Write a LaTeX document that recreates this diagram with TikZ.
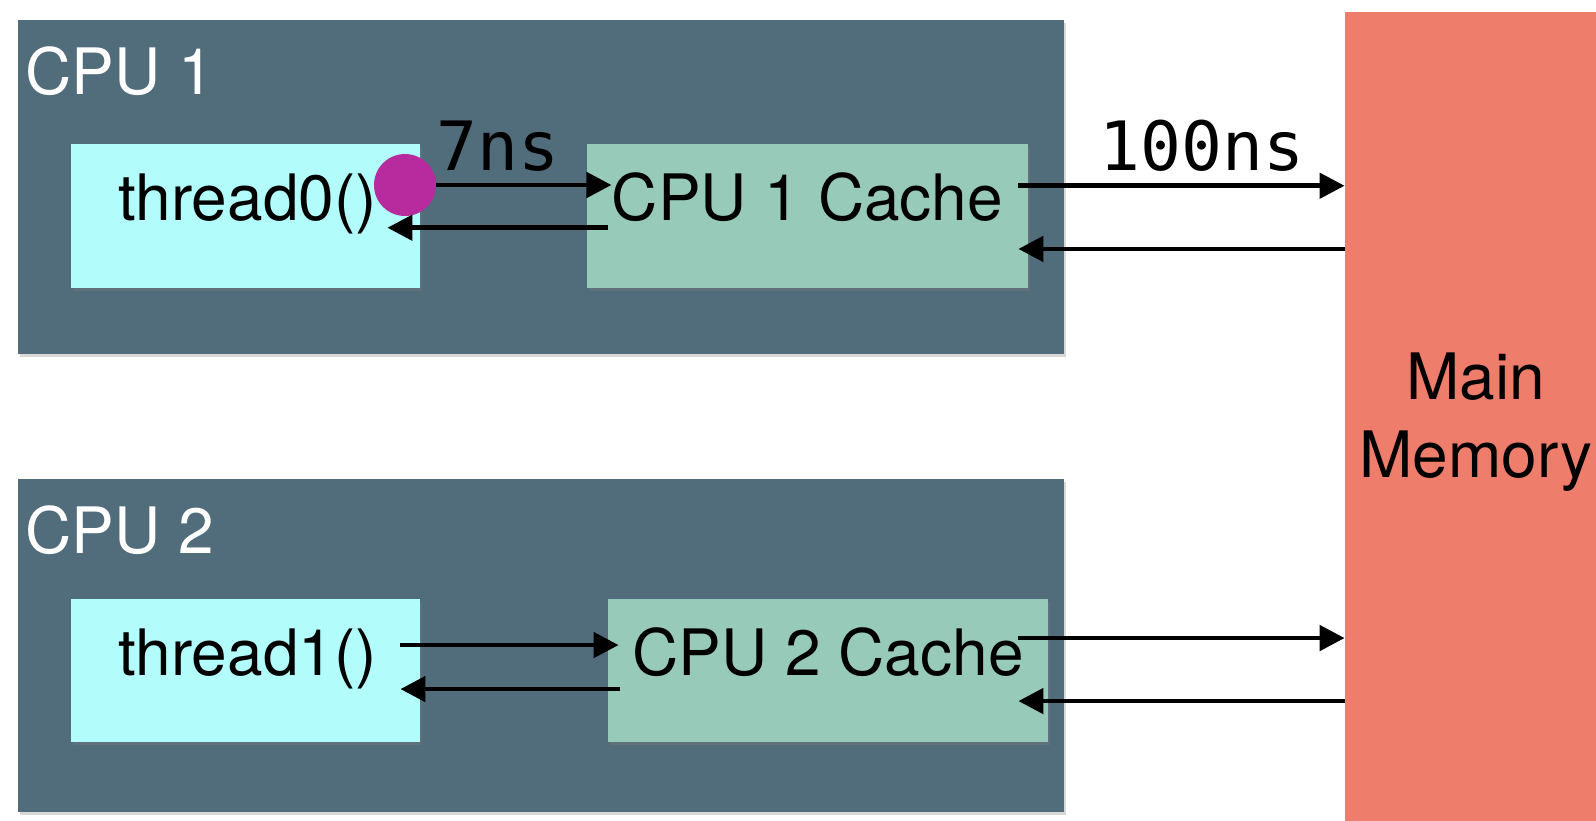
\documentclass[tikz,border=0pt]{standalone}
\usepackage{fontspec}
\setmainfont{TeX Gyre Heros}
\newfontfamily\codefont{DejaVu Sans Mono}
\usetikzlibrary{calc}
\usetikzlibrary{positioning}
\usetikzlibrary{arrows.meta}
\usetikzlibrary{shadows}
\definecolor{custom-slate}{RGB}{81, 108, 122}
\definecolor{custom-cyan}{RGB}{179, 252, 252}
\definecolor{custom-green}{RGB}{151, 202, 184}
\definecolor{custom-salmon}{RGB}{239, 125, 107}
\definecolor{custom-magenta}{RGB}{183, 43, 158}

\begin{document}
\begin{tikzpicture}[x=0.5pt, y=-0.5pt,
        box/.style={rectangle, inner sep=0pt, draw=none, drop shadow={opacity=0.3, shadow xshift=1pt, shadow yshift=-1.5pt}},
        txt/.style={inner sep=0pt, font=\fontsize{32}{36}\selectfont},
        lat/.style={inner sep=0pt, font=\codefont\fontsize{34}{40}\selectfont},
        flow/.style={line width=2.4pt, -{Triangle[length=12.5pt, width=12.5pt]}}]
                \clip (0, 0) rectangle (1596, 820);
                \fill[white] (0, 0) rectangle (1596, 820);
                \node[box, fill=custom-slate, minimum width=523pt, minimum height=167pt] (cpu1) at (541, 187) {};
                \node[box, fill=custom-slate, minimum width=523pt, minimum height=166.5pt] (cpu2) at (541, 645.5) {};
                \node[box, fill=custom-cyan, minimum width=174.5pt, minimum height=72.25pt] (th0) at (245.5, 215.75) {};
                \node[box, fill=custom-green, minimum width=220.5pt, minimum height=72.25pt] (ca1) at (807.5, 215.75) {};
                \node[box, fill=custom-cyan, minimum width=174.5pt, minimum height=71.75pt] (th1) at (245.5, 670.25) {};
                \node[box, fill=custom-green, minimum width=220pt, minimum height=71.75pt] (ca2) at (828, 670.25) {};
                \node[box, fill=custom-salmon, minimum width=131pt, minimum height=410pt, align=center, font=\fontsize{32}{36}\selectfont] (mem) at (1476, 422) {Main\\[3pt]Memory};
                \node[circle, fill=custom-magenta, minimum size=31pt, inner sep=0pt] (dot) at (405, 185) {};
                \node[txt, text=white, anchor=base west] (cpu1txt) at (25, 94) {CPU 1};
                \node[txt, text=white, anchor=base west] (cpu2txt) at (25, 553) {CPU 2};
                \node[txt, anchor=base, xshift=1pt, yshift=-2.6pt] (th0txt) at (th0.center) {thread0()};
                \node[txt, anchor=base, yshift=-2.6pt] (ca1txt) at (ca1.center) {CPU 1 Cache};
                \node[txt, anchor=base, xshift=1pt, yshift=-2.4pt] (th1txt) at (th1.center) {thread1()};
                \node[txt, anchor=base, yshift=-2.4pt] (ca2txt) at (ca2.center) {CPU 2 Cache};
                \node[lat, anchor=base west] (lat1) at (436, 170) {7ns};
                \node[lat, anchor=base west] (lat2) at (1099, 170) {100ns};
                \coordinate (up1) at ([xshift=-5pt, yshift=15pt]ca1.east);
                \coordinate (dn1) at ([xshift=-5pt, yshift=-16.6pt]ca1.east);
                \coordinate (up2) at ([xshift=-15pt, yshift=16.1pt]ca2.east);
                \coordinate (dn2) at ([xshift=-15pt, yshift=-15.4pt]ca2.east);
                \draw[flow] (dot.east) -- (dot.east -| ca1txt.west);
                \draw[flow] ([xshift=10.5pt, yshift=-6pt]ca1.west) -- ([xshift=-16.5pt, yshift=-6pt]th0.east);
                \draw[flow] (up1) -- (up1 -| mem.west);
                \draw[flow] (dn1 -| mem.west) -- (dn1);
                \draw[flow] ([xshift=-10pt, yshift=12.6pt]th1.east) -- ([xshift=5.5pt, yshift=12.6pt]ca2.west);
                \draw[flow] ([xshift=6pt, yshift=-9.4pt]ca2.west) -- ([xshift=-10pt, yshift=-9.4pt]th1.east);
                \draw[flow] (up2) -- (up2 -| mem.west);
                \draw[flow] (dn2 -| mem.west) -- (dn2);
            \end{tikzpicture}
\end{document}
